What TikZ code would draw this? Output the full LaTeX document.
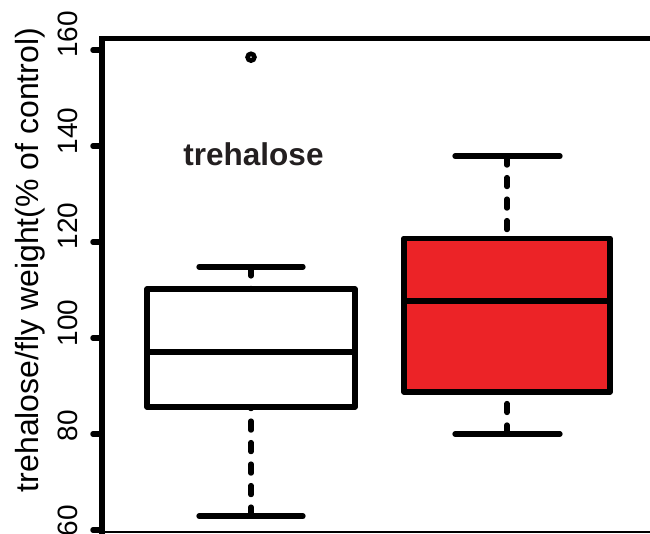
\documentclass[tikz,border=0pt]{standalone}
\usepackage{fontspec}
\setmainfont{Liberation Sans}
\definecolor{boxred}{RGB}{236,35,39}
\definecolor{labelgray}{RGB}{35,31,32}
\tikzset{
  axisline/.style={line width=5.5pt},
  boxframe/.style={line width=5.3pt, line join=round},
  whiskercap/.style={line width=5.3pt, line cap=round},
  whiskerline/.style={line width=5.3pt, line cap=round, dash pattern=on 9pt off 12.5pt},
  ticklabel/.style={rotate=90, anchor=base, inner sep=0pt, font=\fontsize{28}{32}\selectfont}
}

\begin{document}
\begin{tikzpicture}[x=1pt,y=4.8pt]
\useasboundingbox (0,59.375) rectangle (650,170.417);

% axes
\draw[axisline] (102,59) -- (102,162.4) -- (650,162.4);
\draw[line width=2pt] (102,59.5) -- (650,59.5);
\foreach \v/\c in {160/163.2,140/143.1,120/123.3,100/103.1,80/81.7,60/61.9}{
  \draw[axisline, line cap=round] (93,\v) -- (102,\v);
  \node[ticklabel] (tick\v) at (77,\c) {\v};
}
\node[rotate=90, anchor=base, inner sep=0pt, font=\fontsize{32}{36}\selectfont] (ytitle) at (38,116.25) {trehalose/fly weight(\% of control)};

% control box
\coordinate (ctop) at (251,110.2);
\coordinate (cbot) at (251,85.6);
\coordinate (chi) at (251,114.8);
\coordinate (clo) at (251,62.9);
\draw[whiskerline] (chi) -- (ctop);
\draw[whiskerline] (clo) -- (cbot);
\draw[whiskercap] (199,114.8) -- (303,114.8);
\draw[whiskercap] (199,62.9) -- (303,62.9);
\draw[boxframe, fill=white] (147,85.6) rectangle (355,110.2);
\draw[boxframe] (147,97.1) -- (355,97.1);
\draw[line width=4.6pt] (251,158.5) circle[radius=3.4pt];

% treated box
\coordinate (ttop) at (507,120.8);
\coordinate (tbot) at (507,88.75);
\coordinate (thi) at (507,137.9);
\coordinate (tlo) at (507,80);
\draw[whiskerline] (thi) -- (ttop);
\draw[whiskerline] (tlo) -- (tbot);
\draw[whiskercap] (455,137.9) -- (560,137.9);
\draw[whiskercap] (455,80) -- (560,80);
\draw[boxframe, fill=boxred] (404,88.75) rectangle (610,120.8);
\draw[boxframe] (404,107.7) -- (610,107.7);

\node[anchor=base, inner sep=0pt, text=labelgray, font=\fontsize{31.5}{36}\selectfont\bfseries] (title) at (253.5,136.04) {trehalose};
\end{tikzpicture}
\end{document}
